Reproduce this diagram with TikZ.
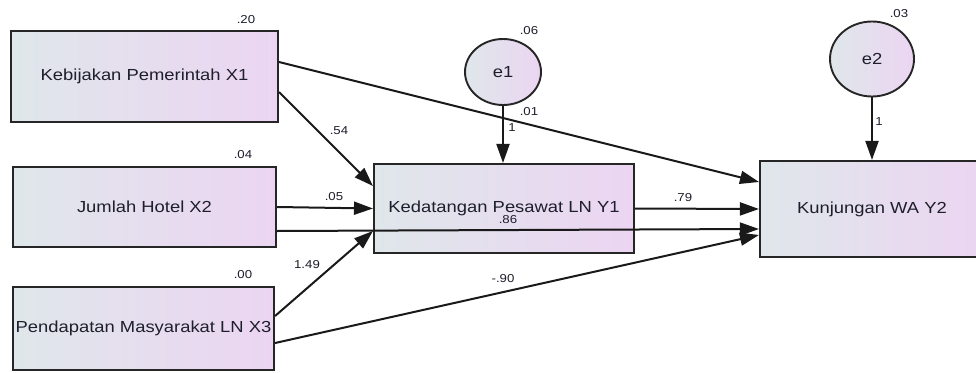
\documentclass[tikz,border=0pt]{standalone}
\usepackage{fontspec}
\setmainfont{Liberation Sans}[FakeStretch=1.15]
\usetikzlibrary{arrows.meta,shapes.geometric}
\definecolor{fillL}{HTML}{DFE7EA}
\definecolor{fillR}{HTML}{ECD5F2}
\definecolor{inkc}{HTML}{1E1E2C}
\tikzset{
  varbox/.style={draw=black!85, line width=2.1pt, left color=fillL, right color=fillR,
    text=inkc, font=\fontsize{16}{18}\selectfont, inner sep=0pt},
  errnode/.style={ellipse, draw=black!85, line width=1.9pt, left color=fillL, right color=fillR,
    text=inkc, font=\fontsize{16}{18}\selectfont, inner sep=0pt},
  path/.style={draw=black!90, line width=2pt, -{Triangle[length=19pt,width=13pt]}},
  coef/.style={font=\fontsize{11.5}{13}\selectfont, text=inkc, inner sep=0pt}
}
\begin{document}
\begin{tikzpicture}[x=1pt,y=-1pt]
\useasboundingbox (0,0) rectangle (976,372);
\clip (0,0) rectangle (976,372);
\fill[white] (0,0) rectangle (976,372);

% observed variables
\node[varbox, minimum width=267pt, minimum height=91pt] (X1) at (144.5,76.5) {Kebijakan Pemerintah X1};
\node[varbox, minimum width=263pt, minimum height=80pt] (X2) at (144.5,207) {Jumlah Hotel X2};
\node[varbox, minimum width=261pt, minimum height=83pt] (X3) at (143.5,328.5) {Pendapatan Masyarakat LN X3};
\node[varbox, minimum width=260pt, minimum height=89pt] (Y1) at (504,208.5) {Kedatangan Pesawat LN Y1};
\node[varbox, minimum width=224pt, minimum height=96pt] (Y2) at (872,209) {Kunjungan WA Y2};

% error terms
\node[errnode, minimum width=76pt, minimum height=66pt] (e1) at (503,72) {e1};
\node[errnode, minimum width=84pt, minimum height=75pt] (e2) at (872,59) {e2};

% structural paths
\draw[path] ([yshift=-15.5pt]X1.east) -- ([yshift=22.5pt]Y1.west);
\draw[path] ([yshift=14.5pt]X1.east) -- ([yshift=27pt]Y2.west);
\draw[path] (X2.east) -- (Y1.west);
\draw[path] ([yshift=-24pt]X2.east) -- ([yshift=-20pt]Y2.west);
\draw[path] ([yshift=12.5pt]X3.east) -- ([yshift=-22.5pt]Y1.west);
\draw[path] ([yshift=-14.5pt]X3.east) -- ([yshift=-26pt]Y2.west);
\draw[path] (Y1.east) -- (Y2.west);
\draw[path] (e1.south) -- (e1.south |- Y1.north);
\draw[path] (e2.south) -- (Y2.north);

% path coefficients
\node[coef] (c54) at (339,131) {.54};
\node[coef] (c01) at (529,112) {.01};
\node[coef] (c05) at (334,197) {.05};
\node[coef] (c86) at (508,220) {.86};
\node[coef] (c149) at (307,265) {1.49};
\node[coef] (c90) at (503,279) {-.90};
\node[coef] (c79) at (683,198) {.79};
\node[coef] (ce1) at (512,128) {1};
\node[coef] (ce2) at (879,122) {1};

% variances
\node[coef] (v1) at (246,20) {.20};
\node[coef] (v2) at (243,155) {.04};
\node[coef] (v3) at (243,275) {.00};
\node[coef] (v4) at (529,31) {.06};
\node[coef] (v5) at (899,14) {.03};
\end{tikzpicture}
\end{document}
